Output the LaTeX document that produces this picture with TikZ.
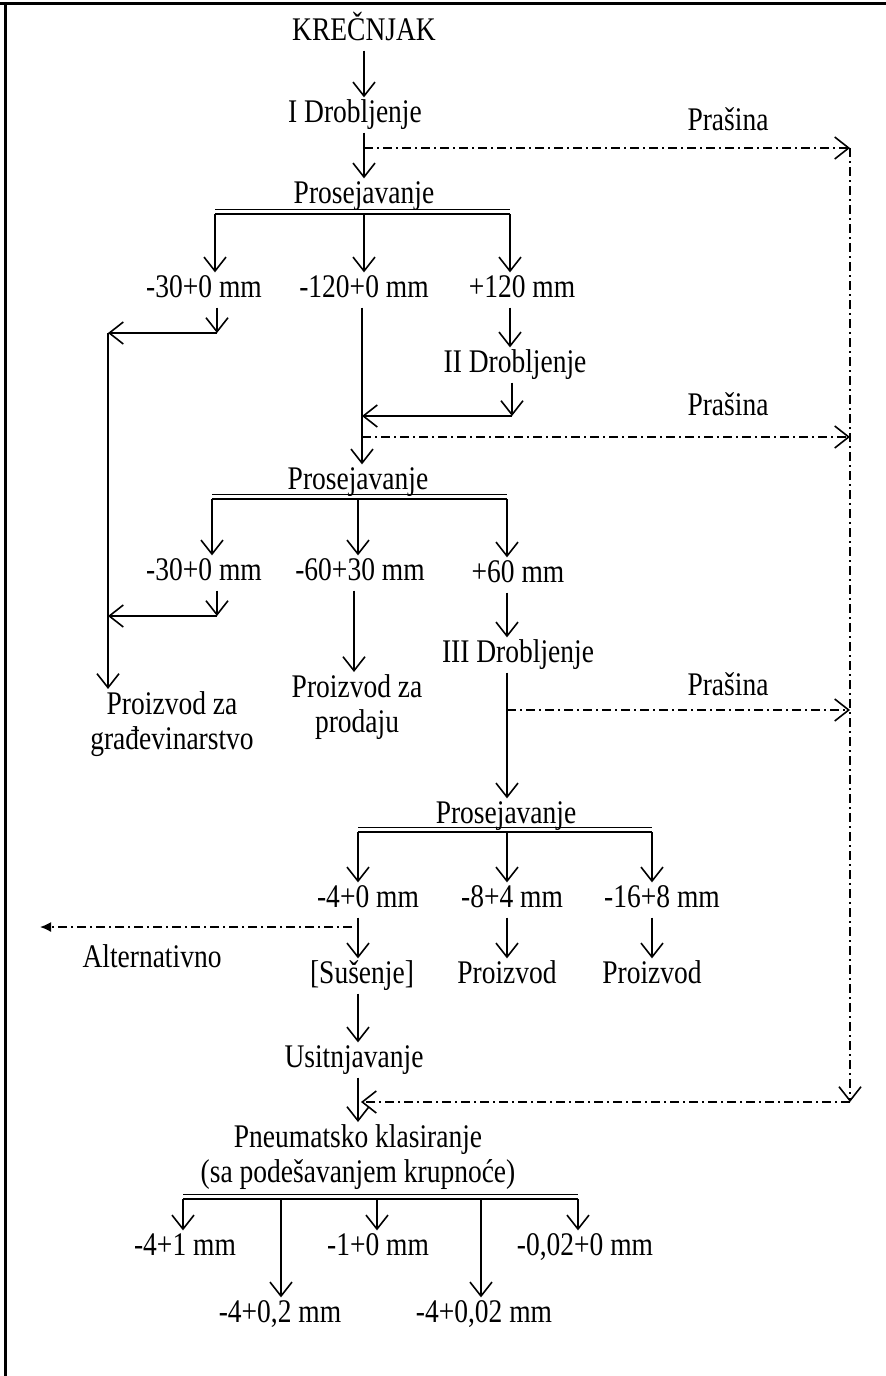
\documentclass[tikz,border=0pt]{standalone}
\usepackage[rgb]{xcolor}
\usepackage{fontspec}
\setmainfont{Liberation Serif}
\usepackage{tikz}
\usetikzlibrary{arrows.meta}

\begin{document}
\begin{tikzpicture}[x=1pt, y=1pt,
  every node/.style={font=\fontsize{27.5}{29}\selectfont, inner sep=2pt,
    text height=19pt, text depth=6pt, align=center, yscale=1.2},
  twoline/.style={text height=, text depth=},
  flow/.style={line width=1.6pt, -{Straight Barb[length=14pt, width=22pt, line width=1.6pt]}},
  dust/.style={line width=1.6pt, dash pattern=on 9pt off 4pt on 2pt off 4pt,
    -{Straight Barb[length=14pt, width=22pt, line width=1.6pt]}},
  bar/.style={line width=1.7pt}]

\useasboundingbox (0,0) rectangle (886,-1376);

% frame
\draw[line width=3pt] (0,-3) -- (886,-3);
\draw[line width=3pt] (5,-3) -- (5,-1376);

% right dust collector line
\coordinate (back) at (850,-1102);


%
% Primary crushing
%
\path
(364,-33) node (krec) {KREČNJAK};

\path
(355,-115) node (drob1) {I Drobljenje};

\path
(728,-123) node (pras1) {Prašina};

\draw[flow] (krec.south -| 364,0) -- (drob1.north -| 364,0);

\coordinate (d1) at (364,-148);
\draw[dust] (d1) -- (d1 -| back);


% Screening 1
\path
(364,-196) node (pros1) {Prosejavanje};

\draw[flow] (drob1.south -| 364,0) -- (pros1.north -| 364,0);

\coordinate (s1l) at (215,-214);
\coordinate (s1r) at (510,-214);
\draw[line width=1.2pt] (215,-209.5) -- (510,-209.5);
\draw[bar] (s1l) -- (s1r);

\path
(204,-290) node (a1) {-30+0 mm};
\path
(364,-290) node (b1) {-120+0 mm};
\path
(522,-290) node (c1) {+120 mm};

\draw[flow] (s1l) -- (s1l |- a1.north);
\draw[flow] (s1l -| b1) -- (b1.north);
\draw[flow] (s1r) -- (s1r |- c1.north);


% -30+0 mm to building product
\coordinate (j1) at (217,-333);
\coordinate (g1) at (108,-333);
\draw[flow] (j1 |- a1.south) -- (j1);
\draw[flow] (j1) -- (g1);


%
% Secondary crushing
%
\path
(515,-365) node (drob2) {II Drobljenje};

\draw[flow] (c1.south -| 510,0) -- (drob2.north -| 510,0);

\coordinate (k2) at (512,-416);
\coordinate (m2) at (362,-416);
\draw[flow] (k2 |- drob2.south) -- (k2);
\draw[flow] (k2) -- (m2);

\path
(728,-408) node (pras2) {Prašina};

\coordinate (d2) at (362,-437);
\draw[dust] (d2) -- (d2 -| back);


% Screening 2
\path
(358,-482) node (pros2) {Prosejavanje};

\draw[flow] (m2 |- b1.south) -- (m2 |- pros2.north);

\coordinate (s2l) at (212,-499);
\coordinate (s2r) at (507,-499);
\draw[line width=1.2pt] (212,-494.5) -- (507,-494.5);
\draw[bar] (s2l) -- (s2r);

\path
(204,-573) node (a2) {-30+0 mm};
\path
(360,-573) node (b2) {-60+30 mm};
\path
(518,-575) node (c2) {+60 mm};

\draw[flow] (s2l) -- (s2l |- a2.north);
\draw[flow] (s2l -| 358,0) -- (a2.north -| 358,0);
\draw[flow] (s2r) -- (s2r |- c2.north);


% -30+0 mm to building product
\coordinate (j2) at (217,-616);
\draw[flow] (j2 |- a2.south) -- (j2);
\draw[flow] (j2) -- (j2 -| g1);

\path
(172,-724) node[twoline] (grad) {Proizvod za\\građevinarstvo};

\draw[flow] (g1) -- (g1 |- grad.north);


% -60+30 mm for sale
\path
(357,-707) node[twoline] (prod) {Proizvod za\\prodaju};

\draw[flow] (b2.south -| 354,0) -- (prod.north -| 354,0);


%
% Tertiary crushing
%
\path
(518,-655) node (drob3) {III Drobljenje};

\draw[flow] (c2.south -| 507,0) -- (drob3.north -| 507,0);

\path
(728,-688) node (pras3) {Prašina};

\coordinate (d3) at (507,-710);
\draw[dust] (d3) -- (d3 -| back);


% Screening 3
\path
(506,-816) node (pros3) {Prosejavanje};

\draw[flow] (drob3.south -| 507,0) -- (pros3.north -| 507,0);

\coordinate (s3l) at (358,-832);
\coordinate (s3r) at (652,-832);
\draw[line width=1.2pt] (358,-827.5) -- (652,-827.5);
\draw[bar] (s3l) -- (s3r);

\path
(368,-900) node (a3) {-4+0 mm};
\path
(512,-900) node (b3) {-8+4 mm};
\path
(662,-900) node (c3) {-16+8 mm};

\draw[flow] (s3l) -- (s3l |- a3.north);
\draw[flow] (s3l -| 507,0) -- (b3.north -| 507,0);
\draw[flow] (s3r) -- (s3r |- c3.north);


% fine fraction
\path
(362,-976) node (sus) {[Sušenje]};
\path
(507,-976) node (proz1) {Proizvod};
\path
(652,-976) node (proz2) {Proizvod};

\draw[flow] (a3.south -| 358,0) -- (sus.north -| 358,0);
\draw[flow] (b3.south -| 507,0) -- (proz1.north -| 507,0);
\draw[flow] (c3.south -| 652,0) -- (proz2.north -| 652,0);

\path
(152,-960) node (alt) {Alternativno};

\coordinate (alt0) at (352,-927);
\coordinate (alt1) at (40,-927);
\draw[line width=1.6pt, dash pattern=on 9pt off 4pt on 2pt off 4pt,
  -{Latex[length=11pt, width=10pt]}] (alt0) -- (alt1);

\path
(354,-1060) node (usit) {Usitnjavanje};

\draw[flow] (sus.south -| 358,0) -- (usit.north -| 358,0);


%
% Air classification
%
\path
(358,-1157) node[twoline] (pneu) {Pneumatsko klasiranje\\(sa podešavanjem krupnoće)};

\draw[flow] (usit.south -| 358,0) -- (pneu.north -| 358,0);

\draw[dust] (d1 -| back) -- (back);
\draw[dust] (back) -- (361,-1102);

\coordinate (s4l) at (183,-1199);
\coordinate (s4r) at (578,-1199);
\draw[line width=1.2pt] (183,-1194.5) -- (578,-1194.5);
\draw[bar] (s4l) -- (s4r);

\path
(185,-1248) node (f1) {-4+1 mm};
\path
(280,-1315) node (f2) {-4+0,2 mm};
\path
(378,-1248) node (f3) {-1+0 mm};
\path
(484,-1315) node (f4) {-4+0,02 mm};
\path
(585,-1248) node (f5) {-0,02+0 mm};

\draw[flow] (s4l) -- (s4l |- f1.north);
\draw[flow] (s4l -| 281,0) -- (f2.north -| 281,0);
\draw[flow] (s4l -| 377,0) -- (f3.north -| 377,0);
\draw[flow] (s4l -| 481,0) -- (f4.north -| 481,0);
\draw[flow] (s4r) -- (s4r |- f5.north);


\end{tikzpicture}
\end{document}
